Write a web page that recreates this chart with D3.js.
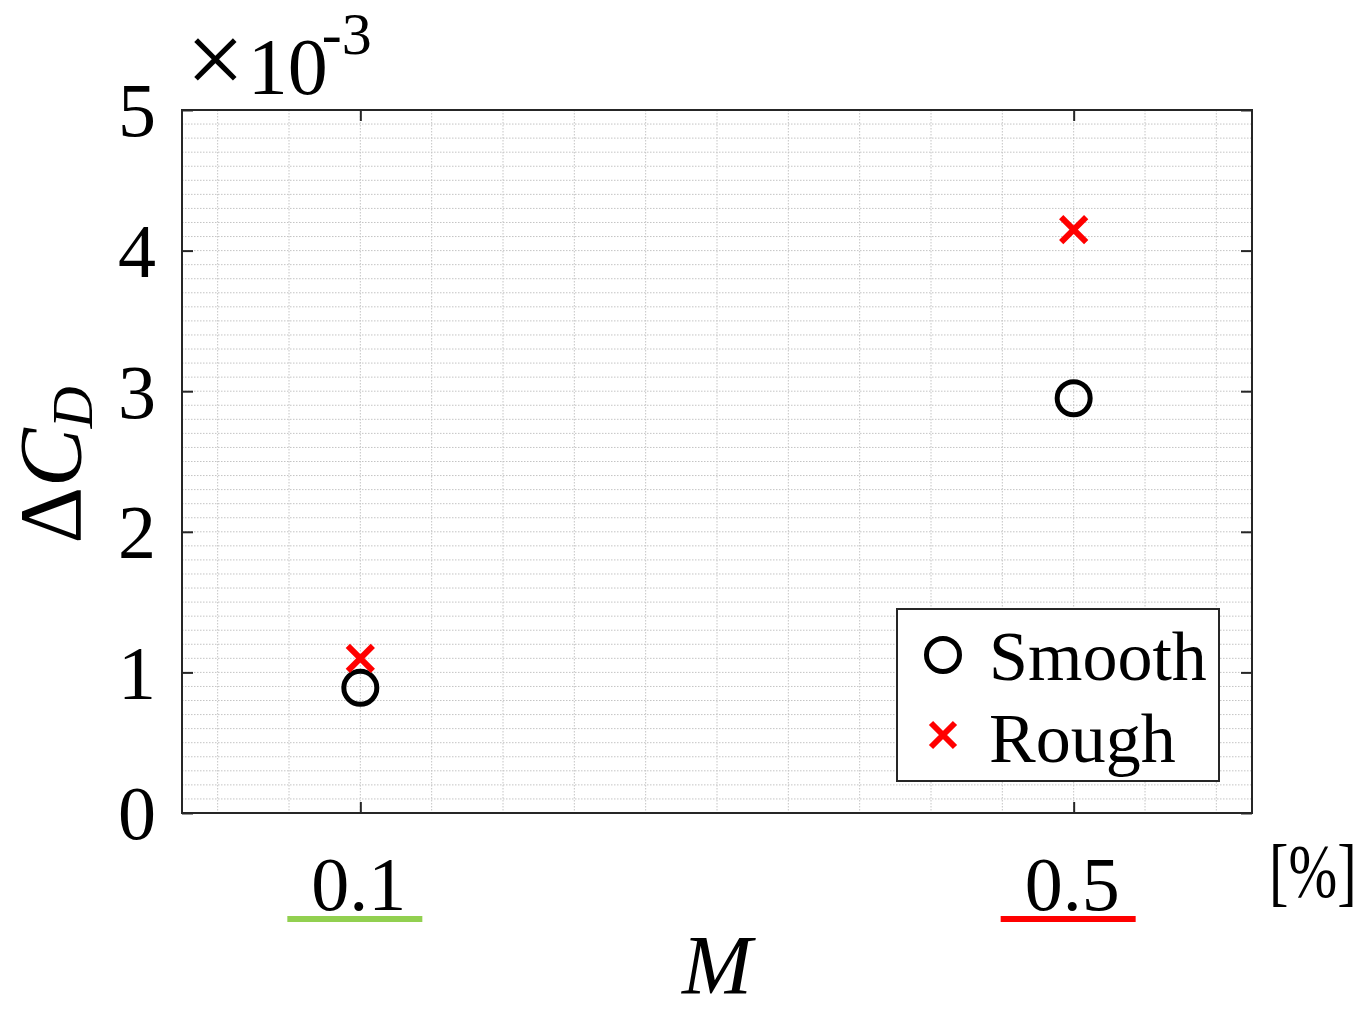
<!DOCTYPE html>
<html>
<head>
<meta charset="utf-8">
<script src="https://cdn.jsdelivr.net/npm/d3@7"></script>
<style>
  html, body { margin: 0; padding: 0; background: #fff; }
  svg { display: block; }
  text { font-family: "Liberation Serif", "Times New Roman", serif; fill: #000; }
</style>
</head>
<body>
<svg id="chart" width="1364" height="1010"></svg>
<script>
// Drag-coefficient increment (×10^-3) versus roughness height M [%]
const xTicks = [0.1, 0.5];
const xTickLabels = ["0.1", "0.5"];
const yTicks = [0, 1, 2, 3, 4, 5];
const smoothM = [0.1, 0.5];
const smoothDCd = [0.89, 2.95];
const roughM = [0.1, 0.5];
const roughDCd = [1.10, 4.15];
const seriesNames = ["Smooth", "Rough"];
const underlineColors = ["#92d050", "#ff0000"];

const svg = d3.select("#chart");
const L = 182, R = 1252, T = 110, B = 813;

const x = d3.scaleLinear().domain([0, 0.6]).range([L, R]);
const y = d3.scaleLinear().domain([0, 5]).range([B, T]);

const gridColor = "#c4c4c4";
const axisColor = "#262626";

// minor grid
const grid = svg.append("g");
grid.selectAll("line.v")
  .data(d3.range(0.02, 0.6, 0.04))
  .join("line")
  .attr("x1", d => x(d)).attr("x2", d => x(d))
  .attr("y1", T).attr("y2", B)
  .attr("stroke", gridColor).attr("stroke-width", 1)
  .attr("stroke-dasharray", "1.5,1.5");
grid.selectAll("line.h")
  .data(d3.range(1, 50).map(i => i / 10))
  .join("line")
  .attr("y1", d => y(d)).attr("y2", d => y(d))
  .attr("x1", L).attr("x2", R)
  .attr("stroke", gridColor).attr("stroke-width", 1)
  .attr("stroke-dasharray", "1.5,1.5");

// axes with inward ticks on all four sides
const tickLen = 11;
const fs = 76;
const yAxisL = d3.axisLeft(y).tickValues(yTicks).tickSizeInner(-tickLen).tickSizeOuter(0).tickPadding(26).tickFormat(d3.format("d"));
const yAxisR = d3.axisRight(y).tickValues(yTicks).tickSizeInner(-tickLen).tickSizeOuter(0).tickFormat("");
const xAxisB = d3.axisBottom(x).tickValues(xTicks).tickSizeInner(-tickLen).tickSizeOuter(0).tickPadding(0).tickFormat((d, i) => xTickLabels[i]);
const xAxisT = d3.axisTop(x).tickValues(xTicks).tickSizeInner(-tickLen).tickSizeOuter(0).tickFormat("");

function styleAxis(g) {
  g.select(".domain").remove();
  g.selectAll(".tick line").attr("stroke", axisColor).attr("stroke-width", 2);
  g.selectAll(".tick text").attr("font-family", "Liberation Serif, serif").attr("font-size", fs).attr("fill", "#000");
}
const gL = svg.append("g").attr("transform", `translate(${L},0)`).call(yAxisL).call(styleAxis);
gL.selectAll(".tick text").attr("dy", "0.34em");
svg.append("g").attr("transform", `translate(${R},0)`).call(yAxisR).call(styleAxis);
const gB = svg.append("g").attr("transform", `translate(0,${B})`).call(xAxisB).call(styleAxis);
gB.selectAll(".tick text").attr("dy", 0).attr("y", 97).attr("dx", -2);
svg.append("g").attr("transform", `translate(0,${T})`).call(xAxisT).call(styleAxis);

// box
svg.append("rect").attr("x", L).attr("y", T).attr("width", R - L).attr("height", B - T)
  .attr("fill", "none").attr("stroke", axisColor).attr("stroke-width", 2);

// underlines marking the two tested roughness heights
svg.selectAll("line.ul")
  .data(xTicks)
  .join("line")
  .attr("x1", d => x(d) - 73).attr("x2", d => x(d) + 62)
  .attr("y1", 919).attr("y2", 919)
  .attr("stroke", (d, i) => underlineColors[i]).attr("stroke-width", 6);

// exponent label
const ex = svg.append("text").attr("x", 186).attr("y", 94).attr("font-size", 80);
ex.append("tspan").attr("font-size", 104).text("×");
ex.append("tspan").attr("dx", 3).text("10");
ex.append("tspan").attr("font-size", 60).attr("dx", -6).attr("dy", -40).text("-3");

// y label
const yl = svg.append("text").attr("transform", "translate(80,465) rotate(-90)")
  .attr("text-anchor", "middle").attr("font-size", 88);
yl.append("tspan").text("Δ");
yl.append("tspan").attr("font-style", "italic").text("C");
yl.append("tspan").attr("font-style", "italic").attr("font-size", 58).attr("dy", 12).text("D");

// x label and unit
svg.append("text").attr("x", (L + R) / 2).attr("y", 994).attr("text-anchor", "middle")
  .attr("font-size", 84).attr("font-style", "italic").text("M");
svg.append("text").attr("transform", "translate(1269,897) scale(0.77,1)")
  .attr("font-size", fs).text("[%]");

// markers
function circleMarker(g, cx, cy) {
  g.append("circle").attr("cx", cx).attr("cy", cy).attr("r", 16.5)
    .attr("fill", "none").attr("stroke", "#000").attr("stroke-width", 5);
}
function crossMarker(g, cx, cy, h) {
  g.append("path")
    .attr("d", `M${cx - h},${cy - h}L${cx + h},${cy + h}M${cx - h},${cy + h}L${cx + h},${cy - h}`)
    .attr("stroke", "#ff0000").attr("stroke-width", 6).attr("fill", "none");
}
const pts = svg.append("g");
smoothM.forEach((m, i) => circleMarker(pts, x(m), y(smoothDCd[i])));
roughM.forEach((m, i) => crossMarker(pts, x(m), y(roughDCd[i]), 12.5));

// legend
const lg = svg.append("g");
lg.append("rect").attr("x", 897).attr("y", 609).attr("width", 322).attr("height", 172)
  .attr("fill", "#fff").attr("stroke", axisColor).attr("stroke-width", 2);
circleMarker(lg, 943, 655);
crossMarker(lg, 943, 735, 12);
lg.append("text").attr("x", 989).attr("y", 680).attr("font-size", 70).text(seriesNames[0]);
lg.append("text").attr("x", 989).attr("y", 762).attr("font-size", 70).text(seriesNames[1]);
</script>
</body>
</html>
